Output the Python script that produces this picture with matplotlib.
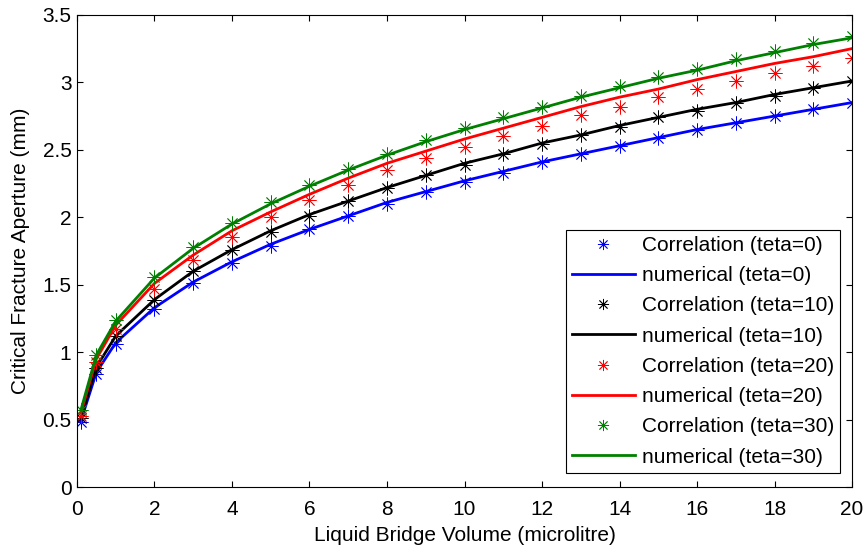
import matplotlib.pyplot as plt
from matplotlib.ticker import FixedLocator

plt.rcParams['font.family'] = ['Liberation Sans', 'DejaVu Sans']

volume = [0.1, 0.5, 1, 2, 3, 4, 5, 6, 7, 8, 9, 10, 11, 12, 13, 14, 15, 16, 17, 18, 19, 20]

corr_0 = [0.48, 0.84, 1.06, 1.32, 1.51, 1.66, 1.79, 1.91, 2.01, 2.10, 2.19, 2.26,
          2.33, 2.41, 2.47, 2.53, 2.59, 2.65, 2.70, 2.75, 2.80, 2.85]
num_0 = [0.49, 0.85, 1.07, 1.33, 1.52, 1.67, 1.80, 1.91, 2.01, 2.11, 2.19, 2.27,
         2.34, 2.41, 2.47, 2.53, 2.59, 2.65, 2.70, 2.75, 2.80, 2.85]

corr_10 = [0.51, 0.88, 1.12, 1.39, 1.60, 1.76, 1.89, 2.01, 2.12, 2.22, 2.31, 2.39,
           2.47, 2.54, 2.61, 2.67, 2.74, 2.79, 2.85, 2.90, 2.96, 3.01]
num_10 = [0.51, 0.89, 1.12, 1.39, 1.60, 1.76, 1.90, 2.02, 2.12, 2.22, 2.31, 2.40,
          2.47, 2.55, 2.61, 2.68, 2.74, 2.80, 2.85, 2.91, 2.96, 3.01]

corr_20 = [0.53, 0.93, 1.17, 1.47, 1.68, 1.85, 2.00, 2.13, 2.24, 2.35, 2.44, 2.52,
           2.60, 2.68, 2.76, 2.82, 2.89, 2.95, 3.01, 3.07, 3.12, 3.18]
num_20 = [0.55, 0.95, 1.20, 1.51, 1.72, 1.90, 2.04, 2.17, 2.29, 2.40, 2.49, 2.58,
          2.66, 2.74, 2.82, 2.89, 2.95, 3.02, 3.08, 3.14, 3.19, 3.25]

corr_30 = [0.57, 0.98, 1.24, 1.56, 1.78, 1.96, 2.11, 2.24, 2.36, 2.47, 2.57, 2.66,
           2.74, 2.82, 2.90, 2.97, 3.04, 3.10, 3.17, 3.23, 3.29, 3.34]
num_30 = [0.57, 0.98, 1.23, 1.55, 1.77, 1.95, 2.10, 2.23, 2.35, 2.46, 2.56, 2.65,
          2.73, 2.81, 2.89, 2.96, 3.03, 3.09, 3.16, 3.22, 3.28, 3.33]

x_ticks = [0, 2, 4, 6, 8, 10, 12, 14, 16, 18, 20]
y_ticks = [0, 0.5, 1, 1.5, 2, 2.5, 3, 3.5]
y_tick_labels = ['0', '0.5', '1', '1.5', '2', '2.5', '3', '3.5']

series = [
    (corr_0, num_0, '#0000ff', '0'),
    (corr_10, num_10, '#000000', '10'),
    (corr_20, num_20, '#ff0000', '20'),
    (corr_30, num_30, '#008000', '30'),
]

fig = plt.figure(figsize=(8.65, 5.51), dpi=100)
ax = fig.add_axes([0.089, 0.116, 0.896, 0.857])

star = (8, 2, 0)
for corr, num, col, teta in series:
    ax.plot(volume, corr, linestyle='none', marker=star, markersize=10,
            markeredgewidth=0.6, color=col, label='Correlation (teta=%s)' % teta)
    ax.plot(volume, num, '-', linewidth=2, color=col,
            label='numerical (teta=%s)' % teta)

ax.set_xlim(0, 20)
ax.set_ylim(0, 3.5)
ax.xaxis.set_major_locator(FixedLocator(x_ticks))
ax.set_yticks(y_ticks)
ax.set_yticklabels(y_tick_labels)
ax.tick_params(direction='in', labelsize=15, length=4, top=True, right=True)
ax.tick_params(axis='x', pad=9)
ax.tick_params(axis='y', pad=4)
for s in ax.spines.values():
    s.set_linewidth(0.8)

ax.set_xlabel('Liquid Bridge Volume (microlitre)', fontsize=15, labelpad=5)
ax.set_ylabel('Critical Fracture Aperture (mm)', fontsize=15, labelpad=9)

leg = ax.legend(loc='lower right', bbox_to_anchor=(0.985, 0.03), fontsize=15,
                frameon=True, fancybox=False, edgecolor='black', framealpha=1,
                handlelength=3.0, labelspacing=0.54, borderpad=0.3,
                handletextpad=0.35, borderaxespad=0, markerscale=0.8)
leg.get_frame().set_linewidth(0.8)

fig.savefig('out.png', dpi=100)
